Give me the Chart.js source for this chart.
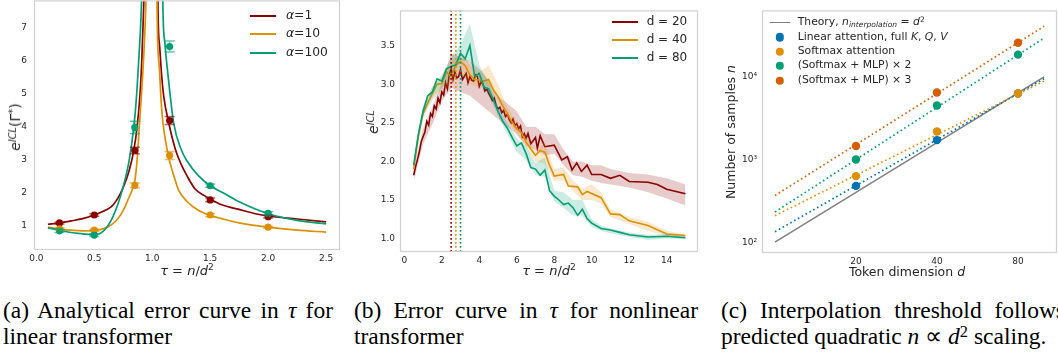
<!DOCTYPE html>
<html><head><meta charset="utf-8">
<script src="https://cdn.jsdelivr.net/npm/chart.js@4.4.1/dist/chart.umd.min.js"></script>
<style>
body{margin:0;width:1058px;height:356px;overflow:hidden;position:relative;background:#fff;font-family:"DejaVu Sans",sans-serif;color:#262626}
canvas{position:absolute}
.t{position:absolute;white-space:nowrap;line-height:1}
.c{transform:translate(-50%,-50%)}
.r{transform:translate(-50%,-50%) rotate(-90deg)}
.m{font-style:italic}
sup{font-size:0.7em;vertical-align:0.45em;line-height:0}
sub{font-size:0.7em;vertical-align:-0.25em;line-height:0}
.sw{position:absolute;height:0;border-top:2px solid}
.dot{position:absolute;width:8.4px;height:8.4px;border-radius:50%;transform:translate(-50%,-50%)}
.cap{position:absolute;font-family:"Liberation Serif","Times New Roman",serif;font-size:23.5px;line-height:25.7px;color:#000;white-space:nowrap}
.j{text-align:justify;text-align-last:justify;white-space:normal}
.cap i{font-style:italic}
.lc{font-size:10.8px}
</style></head><body>
<canvas id="ca" width="342" height="282" style="left:0;top:-12px"></canvas>
<canvas id="cb" width="355" height="272" style="left:345px;top:0"></canvas>
<canvas id="cc" width="340" height="273" style="left:720px;top:0"></canvas>

<!-- panel a labels -->
<div class="t r" style="left:15px;top:127px;font-size:14px"><span class="m">e</span><sup class="m">ICL</sup>(Γ<sup>*</sup>)</div>
<div class="t c" style="left:187px;top:270px;font-size:13px"><span class="m">τ</span> = <span class="m">n</span>/<span class="m">d</span><sup>2</sup></div>
<div class="sw" style="left:250px;top:15px;width:26px;border-color:#8b0000"></div>
<div class="t" style="left:286px;top:9px;font-size:12.3px"><span class="m">α</span>=1</div>
<div class="sw" style="left:250px;top:33.3px;width:26px;border-color:#de8f05"></div>
<div class="t" style="left:286px;top:27.3px;font-size:12.3px"><span class="m">α</span>=10</div>
<div class="sw" style="left:250px;top:51.7px;width:26px;border-color:#029e73"></div>
<div class="t" style="left:286px;top:45.7px;font-size:12.3px"><span class="m">α</span>=100</div>

<!-- panel b labels -->
<div class="t r" style="left:373px;top:122px;font-size:14px"><span class="m">e</span><sup class="m">ICL</sup></div>
<div class="t c" style="left:549px;top:270px;font-size:13px"><span class="m">τ</span> = <span class="m">n</span>/<span class="m">d</span><sup>2</sup></div>
<div class="sw" style="left:611.7px;top:20.7px;width:26px;border-color:#8b0000"></div>
<div class="t" style="left:646.7px;top:15px;font-size:12px">d = 20</div>
<div class="sw" style="left:611.7px;top:39px;width:26px;border-color:#de8f05"></div>
<div class="t" style="left:646.7px;top:33.3px;font-size:12px">d = 40</div>
<div class="sw" style="left:611.7px;top:56.7px;width:26px;border-color:#029e73"></div>
<div class="t" style="left:646.7px;top:51px;font-size:12px">d = 80</div>

<!-- panel c labels -->
<div class="t r" style="left:731px;top:132px;font-size:12.5px">Number of samples <span class="m">n</span></div>
<div class="t c" style="left:907px;top:272px;font-size:12.5px">Token dimension <span class="m">d</span></div>
<div class="sw" style="left:770px;top:22px;width:20px;border-top-width:1.8px;border-color:#808080"></div>
<div class="t lc" style="left:797.7px;top:16.6px">Theory, <span class="m">n</span><sub class="m">interpolation</sub> = <span class="m">d</span><sup>2</sup></div>
<div class="dot" style="left:780px;top:37.3px;background:#0173b2"></div>
<div class="t lc" style="left:797.7px;top:31.6px">Linear attention, full <span class="m">K</span>, <span class="m">Q</span>, <span class="m">V</span></div>
<div class="dot" style="left:780px;top:51.7px;background:#de8f05"></div>
<div class="t lc" style="left:797.7px;top:46px">Softmax attention</div>
<div class="dot" style="left:780px;top:66px;background:#029e73"></div>
<div class="t lc" style="left:797.7px;top:60.3px">(Softmax + MLP) × 2</div>
<div class="dot" style="left:780px;top:80.7px;background:#d55e00"></div>
<div class="t lc" style="left:797.7px;top:75px">(Softmax + MLP) × 3</div>

<!-- captions -->
<div class="cap j" style="left:3px;top:298px;width:330px">(a) Analytical error curve in <i>τ</i> for</div>
<div class="cap" style="left:3px;top:323.7px">linear transformer</div>
<div class="cap j" style="left:354px;top:298px;width:344px">(b) Error curve in <i>τ</i> for nonlinear</div>
<div class="cap" style="left:354px;top:323.7px">transformer</div>
<div class="cap j" style="left:721px;top:298px;width:344px">(c) Interpolation threshold follows</div>
<div class="cap" style="left:721px;top:323.7px">predicted quadratic <i>n</i> ∝ <i>d</i><sup>2</sup> scaling.</div>

<script>
// ---------------- Panel (a) data ----------------
const aTauPts  = [0.2, 0.5, 0.85, 1.15, 1.5, 2.0];
const aPts1    = [1.07, 1.31, 3.27, 4.18, 1.77, 1.26];
const aPts10   = [0.89, 0.85, 2.21, 3.12, 1.31, 0.94];
const aPts100  = [0.83, 0.70, 3.97, 6.43, 2.20, 1.36];
const aErr1    = [0.03, 0.04, 0.10, 0.12, 0.06, 0.04];
const aErr10   = [0.03, 0.03, 0.07, 0.12, 0.05, 0.03];
const aErr100  = [0.05, 0.04, 0.19, 0.17, 0.05, 0.05];

const aCurveTau1 = [0.1,0.2,0.3,0.4,0.5,0.6,0.65,0.7,0.75,0.8,0.84,0.87,0.895,0.91,0.925,0.94,0.955,
                    1.035,1.05,1.065,1.08,1.1,1.14,1.2,1.25,1.3,1.37,1.45,1.5,1.6,1.75,1.9,2.0,2.25,2.5];
const aCurve1    = [1.03,1.07,1.13,1.20,1.31,1.46,1.57,1.80,2.15,2.65,3.25,4.0,5.0,6.0,7.5,9.5,13,
                    14,7.5,6.4,5.6,4.9,4.15,3.3,2.85,2.5,2.1,1.9,1.8,1.62,1.48,1.34,1.28,1.19,1.10];
const aCurveTau10 = [0.1,0.2,0.3,0.4,0.5,0.6,0.65,0.7,0.75,0.8,0.83,0.85,0.87,0.885,0.9,0.92,0.943,0.96,0.975,
                     1.03,1.042,1.062,1.08,1.1,1.14,1.2,1.23,1.3,1.4,1.5,1.6,1.75,2.0,2.25,2.5];
const aCurve10    = [0.94,0.88,0.85,0.83,0.84,0.92,1.02,1.18,1.45,1.85,2.1,2.35,3.0,3.8,4.6,5.7,7.5,10,14,
                     14,7.5,5.75,4.6,3.9,3.1,2.35,2.05,1.72,1.45,1.3,1.2,1.07,0.94,0.85,0.79];
const aCurveTau100 = [0.1,0.2,0.3,0.4,0.5,0.55,0.6,0.65,0.7,0.75,0.8,0.84,0.86,0.88,0.905,0.92,0.935,
                      1.07,1.093,1.11,1.135,1.185,1.25,1.3,1.4,1.5,1.63,1.75,2.0,2.25,2.5];
const aCurve100    = [0.92,0.85,0.78,0.74,0.71,0.75,0.90,1.18,1.60,2.18,2.95,3.95,4.7,5.8,7.5,9.5,13,
                      14,7.5,6.5,5.6,4.1,3.3,2.95,2.5,2.2,1.95,1.71,1.35,1.15,1.04];
const aXTicks = [0, 0.5, 1, 1.5, 2, 2.5];
const aXTickLabels = ["0.0","0.5","1.0","1.5","2.0","2.5"];
const aYTicks = [1, 2, 3, 4, 5, 6, 7];
const aYTickLabels = ["1","2","3","4","5","6","7"];

// ---------------- Panel (b) data ----------------
const bTau20 = [0.5,0.6,0.7,0.8,0.9,1.0,1.1,1.2,1.3,1.4,1.5,1.6,1.7,1.8,1.9,2.0,2.1,2.2,2.3,2.4,2.5,2.6,2.7,2.8,2.9,
  3.0,3.1,3.2,3.3,3.4,3.5,3.6,3.7,3.8,3.9,4.0,4.1,4.2,4.3,4.4,4.5,4.6,4.7,4.8,4.9,5.0,5.1,5.2,5.3,5.4,5.5,5.6,5.7,
  5.8,5.9,6.0,6.1,6.2,6.3,6.4,6.5,6.6,6.75,7.0,7.1,7.25,7.5,8.0,8.4,8.7,8.95,9.2,9.45,9.75,10.0,10.5,11.0,11.5,
  12.0,13.0,13.5,14.0,15.0];
const bD20 = [1.82,1.93,2.02,2.12,2.25,2.32,2.38,2.52,2.47,2.62,2.58,2.72,2.68,2.82,2.76,2.90,2.86,3.02,2.94,3.12,
  3.20,3.06,3.16,3.08,3.10,3.19,3.06,3.10,3.14,3.02,3.10,3.05,3.04,3.12,3.10,2.97,3.03,3.00,2.91,2.94,2.88,2.84,
  2.79,2.82,2.72,2.68,2.70,2.63,2.66,2.58,2.61,2.54,2.50,2.55,2.46,2.49,2.42,2.46,2.32,2.36,2.30,2.36,2.23,2.31,
  2.17,2.33,2.19,2.21,2.02,2.06,1.89,1.98,1.87,1.95,1.83,1.83,1.78,1.82,1.74,1.73,1.70,1.64,1.58];
const bTau40 = [0.5,0.75,1.0,1.25,1.5,1.75,2.0,2.25,2.5,2.75,3.0,3.25,3.5,3.75,4.0,4.25,4.5,4.75,5.0,5.25,5.5,
  5.75,6.0,6.25,6.5,6.75,7.0,7.25,7.5,7.75,8.0,8.5,8.75,9.25,9.5,9.75,10.5,11.0,11.5,12.0,13.0,14.0,15.0];
const bD40 = [1.90,2.34,2.62,2.76,2.88,3.00,3.01,3.16,3.10,3.25,3.29,3.24,3.12,3.06,3.05,3.04,3.06,2.93,2.84,2.72,
  2.62,2.51,2.42,2.37,2.25,2.16,2.08,2.14,2.12,1.95,1.81,1.83,1.68,1.67,1.57,1.61,1.53,1.32,1.31,1.23,1.17,1.06,1.04];
const bTau80 = [0.5,0.75,1.0,1.25,1.5,1.75,2.0,2.25,2.5,2.75,3.0,3.25,3.5,3.75,4.0,4.25,4.5,4.75,5.0,5.25,5.5,
  5.75,6.0,6.25,6.5,6.75,7.0,7.25,7.5,7.75,8.0,8.25,8.5,8.75,9.0,9.25,9.5,9.75,10.0,10.5,11.0,11.5,12.0,13.0,14.0,15.0];
const bD80 = [1.95,2.35,2.65,2.85,2.90,3.07,3.04,3.20,3.23,3.25,3.40,3.33,3.50,3.10,3.14,2.96,2.94,2.80,2.65,2.52,
  2.43,2.31,2.20,2.24,2.10,1.92,1.90,1.82,1.89,1.62,1.55,1.50,1.44,1.46,1.40,1.30,1.38,1.26,1.20,1.13,1.11,1.08,
  1.05,1.02,1.03,1.01];
const bBandTau = [0.5,1.0,1.5,2.0,2.5,3.0,3.5,4.0,4.5,5.0,5.5,6.0,6.5,7.0,7.5,8.0,8.5,9.0,9.5,10.0,10.5,11.0,12.0,13.0,14.0,15.0];
const bLo20 = [1.74,2.22,2.48,2.78,2.95,2.90,2.85,2.75,2.65,2.55,2.45,2.35,2.20,2.15,2.08,2.10,1.95,1.82,1.80,1.75,1.72,1.70,1.66,1.60,1.52,1.43];
const bHi20 = [1.90,2.42,2.70,3.02,3.40,3.35,3.30,3.20,3.05,2.85,2.75,2.65,2.45,2.45,2.35,2.35,2.15,2.00,2.00,1.95,1.95,1.90,1.85,1.83,1.78,1.70];
const bLo40 = [1.85,2.55,2.80,2.92,3.00,3.15,3.00,2.95,2.95,2.78,2.55,2.35,2.18,2.00,1.97,1.75,1.75,1.62,1.50,1.50,1.45,1.28,1.19,1.10,1.03,1.02];
const bHi40 = [1.95,2.68,2.95,3.10,3.30,3.40,3.25,3.15,3.25,3.00,2.70,2.50,2.32,2.15,2.25,1.90,1.92,1.75,1.65,1.70,1.60,1.38,1.28,1.22,1.10,1.06];
const bLo80 = [1.90,2.58,2.82,2.95,3.10,3.30,3.30,3.05,2.85,2.58,2.35,2.12,2.02,1.82,1.80,1.48,1.40,1.30,1.30,1.15,1.10,1.07,1.02,0.98,1.00,0.99];
const bHi80 = [2.00,2.72,2.98,3.12,3.35,3.52,3.78,3.25,3.02,2.72,2.50,2.30,2.20,1.98,2.05,1.62,1.60,1.50,1.50,1.25,1.17,1.13,1.08,1.05,1.06,1.03];
const bThresholds = [2.5, 2.75, 3.0];
const bXTicks = [0, 2, 4, 6, 8, 10, 12, 14];
const bXTickLabels = ["0","2","4","6","8","10","12","14"];
const bYTicks = [1.0, 1.5, 2.0, 2.5, 3.0, 3.5];
const bYTickLabels = ["1.0","1.5","2.0","2.5","3.0","3.5"];

// ---------------- Panel (c) data ----------------
const cDims = [20, 40, 80];
const cLinear  = [480, 1720, 6300];
const cSoftmax = [630, 2190, 6300];
const cMlp2    = [1000, 4500, 18600];
const cMlp3    = [1460, 6470, 25900];
const cFitDims = [10, 100];
const cTheory     = [100, 10000];
const cFitLinear  = [134, 9500];
const cFitSoftmax = [209, 8900];
const cFitMlp2    = [232, 29500];
const cFitMlp3    = [367, 41000];
const cXTicks = [20, 40, 80];
const cXTickLabels = ["20","40","80"];
const cYTicks = [100, 1000, 10000];
const cYTickLabels = ["10²","10³","10⁴"];

// ---------------- styling helpers ----------------
const RED = '#8b0000', ORA = '#de8f05', GRN = '#029e73', BLU = '#0173b2', VER = '#d55e00';
function rgba(hex, a){const n=parseInt(hex.slice(1),16);return `rgba(${n>>16&255},${n>>8&255},${n&255},${a})`;}
const pts = (xs, ys) => xs.map((x,i)=>({x, y: ys[i]}));
const TICKFONT = {family:'DejaVu Sans', size:9};

const framePlugin = {id:'frame', afterDatasetsDraw(c){
  const a=c.chartArea, ctx=c.ctx; ctx.save(); ctx.strokeStyle='#d0d0d0'; ctx.lineWidth=1.2;
  ctx.strokeRect(a.left+0.5, a.top+0.5, a.right-a.left-1, a.bottom-a.top-1); ctx.restore();}};

function axis(type, min, max, ticks, labels, pad, fitKey, fitVal){
  return {type, min, max,
    afterBuildTicks: s => { s.ticks = ticks.map(v=>({value:v})); },
    ticks:{callback:(v,i)=>labels[i], font:TICKFONT, color:'#262626', padding:pad, maxRotation:0, autoSkip:false},
    grid:{display:false, drawTicks:false}, border:{display:false},
    afterFit: s => { s[fitKey] = fitVal; }};
}
function baseOptions(pad, scales){
  return {responsive:false, animation:false, devicePixelRatio:1,
    layout:{autoPadding:false, padding:pad},
    plugins:{legend:{display:false}, tooltip:{enabled:false}},
    scales};
}
function ordered(ds){ ds.forEach((d,i)=>{ d.order = ds.length - i; }); return ds; }

// ---------------- Panel (a) ----------------
const errPlugin = {id:'err', afterDatasetsDraw(c){
  const xs=c.scales.x, ys=c.scales.y, ctx=c.ctx;
  const series=[[aPts1,aErr1,RED],[aPts10,aErr10,ORA],[aPts100,aErr100,GRN]];
  ctx.save(); ctx.lineWidth=1.5;
  series.forEach(([v,e,col])=>{
    ctx.strokeStyle=rgba(col,0.6);
    aTauPts.forEach((t,i)=>{
      const x=xs.getPixelForValue(t), y1=ys.getPixelForValue(v[i]-e[i]), y2=ys.getPixelForValue(v[i]+e[i]);
      ctx.beginPath(); ctx.moveTo(x,y1); ctx.lineTo(x,y2);
      ctx.moveTo(x-5,y1); ctx.lineTo(x+5,y1); ctx.moveTo(x-5,y2); ctx.lineTo(x+5,y2); ctx.stroke();
    });
  });
  ctx.restore();}};

function curve(xs, ys, col){return {type:'line', data:pts(xs,ys), borderColor:col, borderWidth:1.7, pointRadius:0, cubicInterpolationMode:'monotone', fill:false};}
function marks(xs, ys, col){return {type:'line', data:pts(xs,ys), showLine:false, pointRadius:3.6, pointBackgroundColor:col, pointBorderWidth:0, borderColor:col};}

new Chart(document.getElementById('ca'), {
  type:'line',
  data:{datasets: ordered([
    curve(aCurveTau1, aCurve1, RED), curve(aCurveTau10, aCurve10, ORA), curve(aCurveTau100, aCurve100, GRN),
    marks(aTauPts, aPts1, RED), marks(aTauPts, aPts10, ORA), marks(aTauPts, aPts100, GRN)])},
  options: baseOptions({left:0, right:2, top:0, bottom:0}, {
    x: axis('linear', -0.02, 2.62, aXTicks, aXTickLabels, 3, 'height', 20),
    y: axis('linear', 0.2475, 7.83, aYTicks, aYTickLabels, 7, 'width', 34)}),
  plugins:[framePlugin, errPlugin]
});

// ---------------- Panel (b) ----------------
function bandLo(ys){return {type:'line', data:pts(bBandTau, ys), borderWidth:0, pointRadius:0, fill:false, borderColor:'rgba(0,0,0,0)'};}
function bandHi(ys, col){return {type:'line', data:pts(bBandTau, ys), borderWidth:0, pointRadius:0, fill:'-1', backgroundColor:rgba(col,0.2), borderColor:'rgba(0,0,0,0)'};}
function bline(xs, ys, col){return {type:'line', data:pts(xs,ys), borderColor:col, borderWidth:1.6, pointRadius:0, fill:false};}
function vline(t, col){return {type:'line', data:[{x:t,y:0},{x:t,y:5}], borderColor:col, borderWidth:1.6, borderDash:[1.8,2.2], pointRadius:0, fill:false};}

new Chart(document.getElementById('cb'), {
  type:'line',
  data:{datasets: ordered([
    bandLo(bLo20), bandHi(bHi20, RED), bline(bTau20, bD20, RED),
    bandLo(bLo40), bandHi(bHi40, ORA), bline(bTau40, bD40, ORA),
    bandLo(bLo80), bandHi(bHi80, GRN), bline(bTau80, bD80, GRN),
    vline(bThresholds[0], RED), vline(bThresholds[1], ORA), vline(bThresholds[2], GRN)])},
  options: baseOptions({left:0, right:2, top:5, bottom:0}, {
    x: axis('linear', -0.229, 15.67, bXTicks, bXTickLabels, 3.5, 'height', 20),
    y: axis('linear', 0.826, 3.956, bYTicks, bYTickLabels, 5, 'width', 55)}),
  plugins:[framePlugin]
});

// ---------------- Panel (c) ----------------
function fit(ys, col){return {type:'line', data:pts(cFitDims, ys), borderColor:col, borderWidth:1.7, borderDash:[1.6,2.8], pointRadius:0, fill:false};}
function cpts(ys, col){return {type:'line', data:pts(cDims, ys), showLine:false, pointRadius:4.2, pointBackgroundColor:col, pointBorderWidth:0, borderColor:col};}

new Chart(document.getElementById('cc'), {
  type:'line',
  data:{datasets: ordered([
    {type:'line', data:pts(cFitDims, cTheory), borderColor:'#808080', borderWidth:1.5, pointRadius:0, fill:false},
    fit(cFitLinear, BLU), fit(cFitSoftmax, ORA), fit(cFitMlp2, GRN), fit(cFitMlp3, VER),
    cpts(cLinear, BLU), cpts(cSoftmax, ORA), cpts(cMlp2, GRN), cpts(cMlp3, VER)])},
  options: baseOptions({left:0, right:3, top:5, bottom:0}, {
    x: axis('logarithmic', 8.95, 111.7, cXTicks, cXTickLabels, 3, 'height', 20),
    y: axis('logarithmic', 74, 63800, cYTicks, cYTickLabels, 5, 'width', 42)}),
  plugins:[framePlugin]
});
</script>
</body></html>
